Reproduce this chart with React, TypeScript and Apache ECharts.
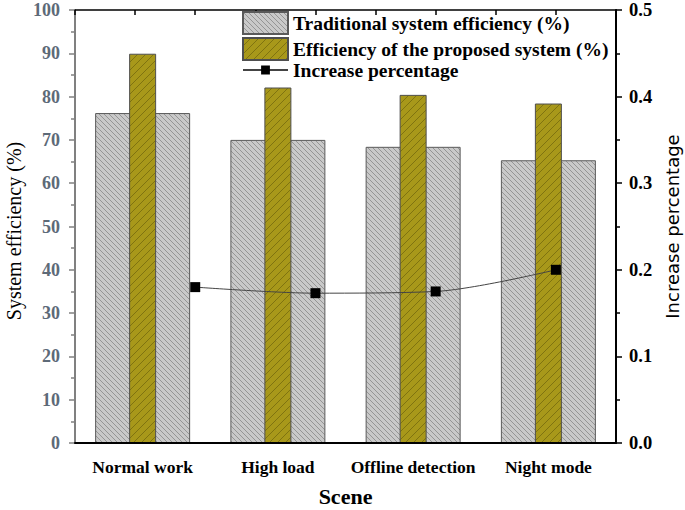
import { useRef, useEffect } from "react";
import * as echarts from "echarts";

const categories = ["Normal work", "High load", "Offline detection", "Night mode"];
const traditional = [76.2, 70.0, 68.4, 65.3];
const proposed = [89.9, 82.1, 80.4, 78.4];
const increase = [0.18, 0.173, 0.175, 0.2];

const SERIF = "Liberation Serif";
const SANS = "DejaVu Sans";

function hatch(size: number, bg: string, fg: string, back: boolean) {
  const c = document.createElement("canvas");
  c.width = size;
  c.height = size;
  const ctx = c.getContext("2d")!;
  ctx.fillStyle = bg;
  ctx.fillRect(0, 0, size, size);
  ctx.strokeStyle = fg;
  ctx.lineWidth = 0.9;
  for (let k = -1; k <= 1; k++) {
    ctx.beginPath();
    if (back) {
      ctx.moveTo(k * size, 0);
      ctx.lineTo(k * size + size, size);
    } else {
      ctx.moveTo(k * size, size);
      ctx.lineTo(k * size + size, 0);
    }
    ctx.stroke();
  }
  return c;
}

export default function App() {
  const chartRef = useRef<HTMLDivElement>(null);
  useEffect(() => {
    if (!chartRef.current) return;
    const chart = echarts.init(chartRef.current, undefined, { renderer: "svg" });
    const grayFill = { image: hatch(5, "#c9c9c9", "#8e8e8e", true), repeat: "repeat" };
    const oliveFill = { image: hatch(8, "#a8981a", "#7a6e10", false), repeat: "repeat" };
    const lineData = increase.map((v, i) => [i + 1, v]);
    const legendText = { fontFamily: SERIF, fontSize: 19.5, fontWeight: "bold", color: "#000" };

    const option: any = {
      animation: false,
      backgroundColor: "#fff",
      textStyle: { fontFamily: SERIF },
      grid: { left: 75, right: 69, top: 10, bottom: 67, containLabel: false, outerBoundsMode: "none" },
      legend: [
        {
          orient: "vertical",
          left: 242,
          top: 11,
          padding: 0,
          itemWidth: 45,
          itemHeight: 22,
          itemGap: 2,
          textStyle: legendText,
          data: [
            { name: "Traditional system efficiency (%)", icon: "rect" },
            { name: "Efficiency of the proposed system (%)", icon: "rect" },
          ],
        },
        {
          orient: "vertical",
          left: 242,
          top: 60,
          padding: 0,
          itemWidth: 45,
          itemHeight: 11,
          textStyle: legendText,
          data: ["Increase percentage"],
        },
      ],
      graphic: [
        {
          type: "text",
          x: 14,
          y: 231,
          rotation: Math.PI / 2,
          style: {
            text: "System efficiency (%)",
            fontFamily: SERIF,
            fontSize: 20,
            fill: "#000",
            align: "center",
            verticalAlign: "middle",
          },
        },
      ],
      xAxis: [
        {
          type: "category",
          position: "bottom",
          data: categories,
          axisLine: { lineStyle: { color: "#000", width: 2 } },
          axisTick: { alignWithLabel: true, inside: false, length: 7, lineStyle: { color: "#000", width: 1.5 } },
          axisLabel: { interval: 0, fontFamily: SERIF, fontSize: 17.5, fontWeight: "bold", color: "#000", margin: 15 },
          name: "Scene",
          nameLocation: "middle",
          nameGap: 42,
          nameTextStyle: { fontFamily: SERIF, fontSize: 22, fontWeight: "bold", color: "#000" },
          z: 10,
        },
        {
          type: "category",
          position: "bottom",
          data: categories,
          axisLine: { show: false },
          axisTick: { interval: 0, inside: false, length: 4, lineStyle: { color: "#000", width: 1.5 } },
          axisLabel: { show: false },
          z: 10,
        },
        {
          type: "value",
          position: "top",
          min: 0,
          max: 4.5,
          interval: 0.5,
          axisLine: { show: true, lineStyle: { color: "#000", width: 1.5 } },
          axisTick: { show: true, inside: true, length: 5, lineStyle: { color: "#000", width: 1.5 } },
          axisLabel: { show: false },
          splitLine: { show: false },
        },
      ],
      yAxis: [
        {
          type: "value",
          position: "left",
          min: 0,
          max: 100,
          interval: 10,
          axisLine: { show: true, lineStyle: { color: "#808080", width: 2 } },
          axisTick: { show: true, inside: false, length: 6, lineStyle: { color: "#808080", width: 1.5 } },
          minorTick: { show: true, splitNumber: 2, length: 4, lineStyle: { color: "#808080", width: 1.5 } },
          axisLabel: {
            fontFamily: SERIF, fontSize: 18, lineHeight: 15, fontWeight: "bold", color: "#5d6a78", margin: 15,
          },
          splitLine: { show: false },
        },
        {
          type: "value",
          position: "right",
          min: 0,
          max: 0.5,
          interval: 0.1,
          axisLine: { show: true, lineStyle: { color: "#000", width: 2 } },
          axisTick: { show: true, inside: false, length: 6, lineStyle: { color: "#000", width: 1.5 } },
          minorTick: { show: true, splitNumber: 2, length: 4, lineStyle: { color: "#000", width: 1.5 } },
          axisLabel: {
            fontFamily: SERIF, fontSize: 18.5, lineHeight: 15, fontWeight: "bold", color: "#000", margin: 13,
            formatter: (v: number) => v.toFixed(1),
          },
          splitLine: { show: false },
          name: "Increase percentage",
          nameLocation: "middle",
          nameGap: 47,
          nameTextStyle: { fontFamily: SANS, fontSize: 18, color: "#000" },
        },
      ],
      series: [
        {
          name: "Traditional system efficiency (%)",
          type: "bar",
          xAxisIndex: 0,
          yAxisIndex: 0,
          barWidth: 95,
          data: traditional,
          itemStyle: { color: grayFill, borderColor: "#5a5a5a", borderWidth: 1 },
        },
        {
          name: "Efficiency of the proposed system (%)",
          type: "bar",
          xAxisIndex: 1,
          yAxisIndex: 0,
          barWidth: 27,
          data: proposed,
          itemStyle: { color: oliveFill, borderColor: "#4f4f4f", borderWidth: 1 },
        },
        {
          name: "Increase percentage",
          type: "line",
          xAxisIndex: 2,
          yAxisIndex: 1,
          data: lineData,
          smooth: 0.3,
          symbol: "rect",
          symbolSize: 10,
          itemStyle: { color: "#000" },
          lineStyle: { color: "#444", width: 1 },
          z: 5,
        },
      ],
    };
    chart.setOption(option);
    return () => chart.dispose();
  }, []);
  return <div ref={chartRef} style={{ position: "fixed", left: 0, top: 0, width: 685, height: 510 }} />;
}
